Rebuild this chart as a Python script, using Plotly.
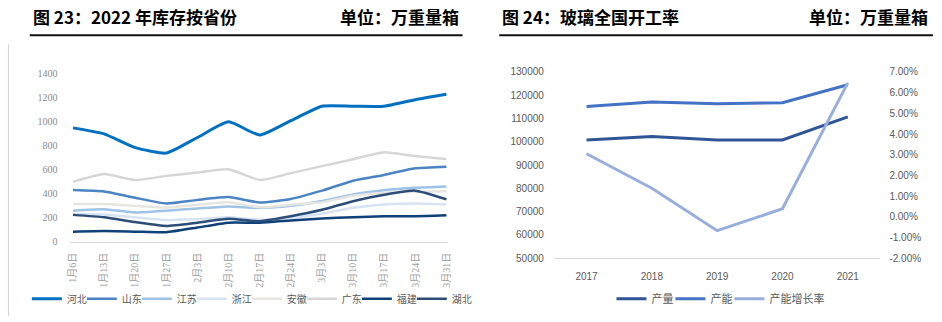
import plotly.graph_objects as go

W, H = 942, 322

# ---------------- data: left chart (2022 inventory by province) ----------------
dates = ["1月6日", "1月13日", "1月20日", "1月27日", "2月3日", "2月10日", "2月17日",
         "2月24日", "3月3日", "3月10日", "3月17日", "3月24日", "3月31日"]
hebei = [950, 900, 785, 740, 870, 1000, 890, 1010, 1130, 1130, 1130, 1185, 1230]
shandong = [432, 420, 368, 320, 350, 373, 328, 358, 427, 510, 558, 613, 627]
jiangsu = [260, 272, 245, 260, 278, 295, 282, 300, 340, 395, 430, 450, 461]
zhejiang = [230, 228, 205, 182, 190, 205, 185, 200, 235, 285, 312, 320, 312]
anhui = [315, 315, 300, 287, 310, 330, 288, 310, 330, 385, 410, 418, 421]
guangdong = [500, 565, 515, 550, 578, 605, 515, 573, 631, 689, 747, 715, 690]
fujian = [85, 90, 85, 80, 120, 160, 160, 178, 195, 205, 213, 213, 221]
hubei = [225, 205, 165, 133, 160, 192, 172, 213, 267, 339, 392, 427, 355]
province_names = ["河北", "山东", "江苏", "浙江", "安徽", "广东", "福建", "湖北"]
left_yticks = [0, 200, 400, 600, 800, 1000, 1200, 1400]

# ---------------- data: right chart (national glass) ----------------
years = ["2017", "2018", "2019", "2020", "2021"]
output = [100800, 102300, 100800, 100800, 110700]
capacity = [115200, 117100, 116300, 116800, 124500]
growth = [0.0305, 0.0138, -0.0067, 0.0039, 0.0647]
right_names = ["产量", "产能", "产能增长率"]
right_yticks = [50000, 60000, 70000, 80000, 90000, 100000, 110000, 120000, 130000]
right_ylabels = [str(v) for v in right_yticks]
pct_ticks = [-0.02, -0.01, 0.0, 0.01, 0.02, 0.03, 0.04, 0.05, 0.06, 0.07]
pct_labels = [f"{v * 100:.2f}%" for v in pct_ticks]

# ---------------- styles ----------------
prov_colors = ["#0070C0", "#4A84C4", "#9DC3E6", "#D6E3F2", "#E7E5DF", "#D6D6D6", "#0E4079", "#2C4D78"]
prov_widths = [3, 2.5, 2.5, 2.5, 2.5, 2.5, 2.5, 2.5]
right_colors = ["#2F5597", "#4472C4", "#98AEDD"]


def px_x(p):
    return p / W


def px_y(p):
    return 1 - p / H


fig = go.Figure()

series = [hebei, shandong, jiangsu, zhejiang, anhui, guangdong, fujian, hubei]
n = len(series)
for i, (name, vals, col, wd) in enumerate(zip(province_names, series, prov_colors, prov_widths)):
    fig.add_trace(go.Scatter(
        x=dates, y=vals, name=name, mode="lines",
        line=dict(color=col, width=wd, shape="spline", smoothing=0.5),
        xaxis="x", yaxis="y", legend="legend", hoverinfo="skip",
        legendwidth=30 if i == n - 1 else None))

fig.add_trace(go.Scatter(x=years, y=output, name=right_names[0], mode="lines",
                         line=dict(color=right_colors[0], width=3),
                         xaxis="x2", yaxis="y2", legend="legend2"))
fig.add_trace(go.Scatter(x=years, y=capacity, name=right_names[1], mode="lines",
                         line=dict(color=right_colors[1], width=3),
                         xaxis="x2", yaxis="y2", legend="legend2"))
fig.add_trace(go.Scatter(x=years, y=growth, name=right_names[2], mode="lines",
                         line=dict(color=right_colors[2], width=3),
                         xaxis="x2", yaxis="y3", legend="legend2", legendwidth=70))

serif = "Liberation Serif, Noto Sans CJK SC, serif"
sans = "Liberation Sans, Noto Sans CJK SC, sans-serif"
cjk_bold = "Noto Sans CJK SC"

fig.update_layout(
    width=W, height=H, autosize=False,
    margin=dict(l=0, r=0, t=0, b=0),
    paper_bgcolor="white", plot_bgcolor="white",
    showlegend=True,
    xaxis=dict(domain=[px_x(68), px_x(448)], type="category", range=[-0.08, 12.04],
               showline=True, linecolor="#D9D9D9", linewidth=1, showgrid=False,
               ticks="", tickangle=-90, ticklabelstandoff=6,
               tickfont=dict(family=serif, size=10, color="#9A9A9A"), anchor="y"),
    yaxis=dict(domain=[px_y(245), px_y(70.5)], range=[0, 1400], tickvals=left_yticks,
               showgrid=False, zeroline=False, showline=False, ticks="",
               ticklabelstandoff=12,
               tickfont=dict(family=serif, size=10, color="#8C8C8C"), anchor="x"),
    xaxis2=dict(domain=[px_x(555), px_x(884)], type="category", range=[-0.5, 4.5],
                showline=True, linecolor="#D9D9D9", linewidth=1, showgrid=False,
                ticks="", ticklabelstandoff=9,
                tickfont=dict(family=sans, size=10, color="#595959"), anchor="y2"),
    yaxis2=dict(domain=[px_y(262), px_y(68.5)], range=[50000, 130000],
                tickvals=right_yticks, ticktext=right_ylabels,
                showgrid=False, zeroline=False, showline=False, ticks="",
                ticklabelstandoff=9,
                tickfont=dict(family=sans, size=10, color="#595959"), anchor="x2"),
    yaxis3=dict(range=[-0.02, 0.07], tickvals=pct_ticks, ticktext=pct_labels,
                overlaying="y2", side="right", anchor="x2",
                showgrid=False, zeroline=False, showline=False, ticks="",
                ticklabelstandoff=8,
                tickfont=dict(family=sans, size=10, color="#595959")),
    legend=dict(orientation="h", x=px_x(24), xanchor="left", y=px_y(304), yanchor="middle",
                entrywidth=10, font=dict(family=sans, size=10, color="#595959"),
                bgcolor="rgba(0,0,0,0)", borderwidth=0, itemclick=False),
    legend2=dict(orientation="h", x=px_x(613), xanchor="left", y=px_y(304), yanchor="middle",
                 entrywidth=14, font=dict(family=sans, size=11, color="#595959"),
                 bgcolor="rgba(0,0,0,0)", borderwidth=0, itemclick=False),
)

# titles
title_font = dict(family=cjk_bold, size=17, color="#000000", weight="bold")
fig.add_annotation(text="图 23：2022 年库存按省份", x=px_x(28), y=px_y(11), xref="paper", yref="paper",
                   xanchor="left", yanchor="middle", showarrow=False, font=title_font)
fig.add_annotation(text="单位：万重量箱", x=px_x(461), y=px_y(11), xref="paper", yref="paper",
                   xanchor="right", yanchor="middle", showarrow=False, font=title_font)
fig.add_annotation(text="图 24：玻璃全国开工率", x=px_x(501), y=px_y(11), xref="paper", yref="paper",
                   xanchor="left", yanchor="middle", showarrow=False, font=title_font)
fig.add_annotation(text="单位：万重量箱", x=px_x(934), y=px_y(11), xref="paper", yref="paper",
                   xanchor="right", yanchor="middle", showarrow=False, font=title_font)

# title rules and border line
fig.add_shape(type="line", xref="paper", yref="paper", x0=px_x(27), x1=px_x(463),
              y0=px_y(30.5), y1=px_y(30.5), line=dict(color="#111111", width=2))
fig.add_shape(type="line", xref="paper", yref="paper", x0=px_x(500), x1=px_x(937),
              y0=px_y(30.5), y1=px_y(30.5), line=dict(color="#111111", width=2))
fig.add_shape(type="line", xref="paper", yref="paper", x0=px_x(5.5), x1=px_x(5.5),
              y0=px_y(40), y1=px_y(322), line=dict(color="#D4D4D4", width=1))

fig.write_html("out.html")
